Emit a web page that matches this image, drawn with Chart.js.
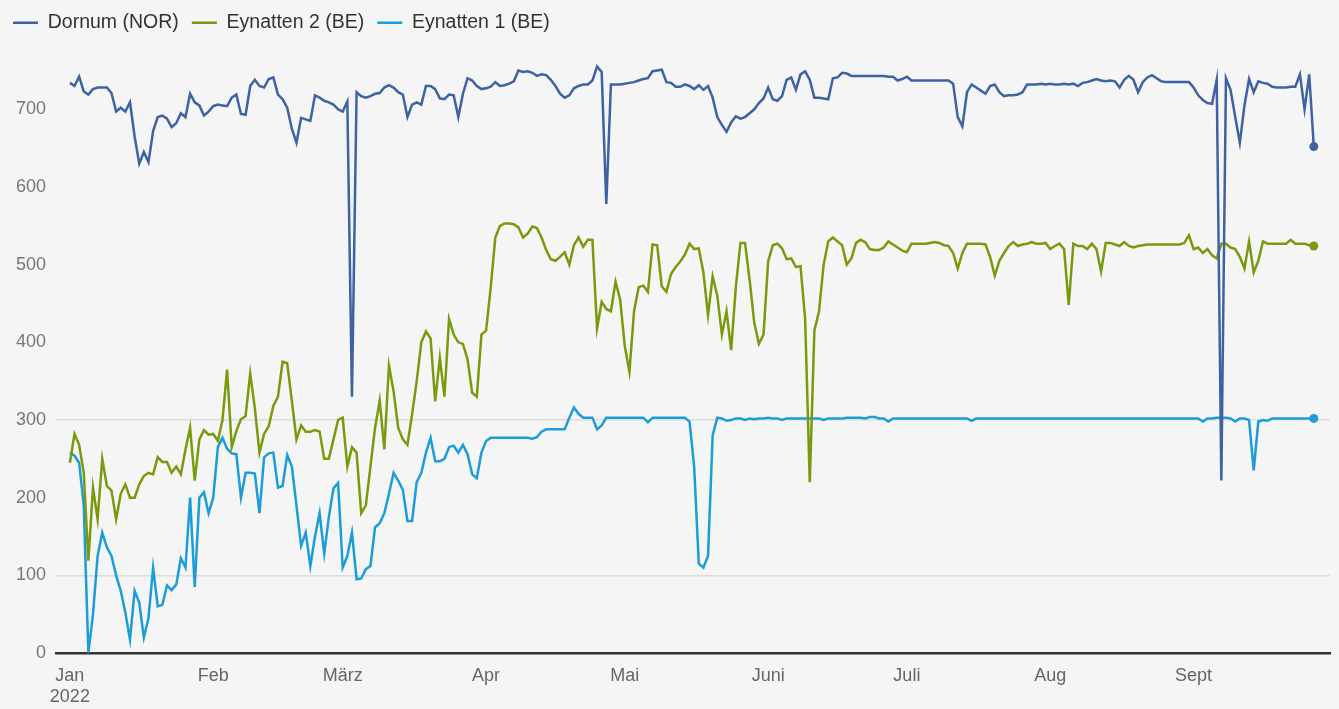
<!DOCTYPE html>
<html>
<head>
<meta charset="utf-8">
<script src="https://cdn.jsdelivr.net/npm/chart.js@4"></script>
<style>
  html, body { margin: 0; padding: 0; background: #f5f5f5; }
  #wrap { width: 1339px; height: 709px; position: relative; }
</style>
</head>
<body>
<div id="wrap"><canvas id="chart"></canvas></div>
<script>
// daily values, 1 Jan 2022 (index 0) to 27 Sept 2022
const dornum = [
  734, 730, 742, 723, 719, 726, 728, 728, 728, 721,
  697, 702, 697, 709, 665, 630, 645, 632, 672, 690,
  692, 688, 677, 682, 695, 690, 720, 709, 705, 692,
  697, 704, 706, 705, 704, 715, 719, 694, 693, 730,
  738, 730, 728, 739, 741, 719, 713, 702, 675, 657,
  689, 687, 685, 718, 715, 711, 709, 706, 700, 697,
  710, 330, 722, 717, 715, 717, 720, 721, 728, 731,
  728, 722, 719, 690, 706, 709, 706, 730, 730, 726,
  714, 713, 719, 718, 690, 720, 740, 737, 730, 726,
  727, 729, 735, 730, 731, 733, 736, 750, 748, 749,
  747, 743, 745, 744, 738, 730, 720, 715, 718, 727,
  730, 732, 732, 737, 755, 748, 578, 732, 732, 732,
  733, 734, 735, 737, 739, 740, 749, 750, 751, 735,
  734, 729, 729, 732, 730, 726, 731, 725, 730, 715,
  690, 680, 671, 683, 691, 688, 690, 695, 700, 708,
  714, 728, 713, 711, 717, 738, 741, 725, 745, 749,
  738, 715, 715, 714, 713, 740, 741, 747, 746, 743,
  743, 743, 743, 743, 743, 743, 743, 742, 742, 737,
  739, 742, 737, 737, 737, 737, 737, 737, 737, 737,
  737, 733, 690, 678, 722, 732, 728, 724, 720, 730,
  732, 722, 717, 718, 718, 719, 722, 732, 732, 732,
  733, 732, 733, 732, 732, 733, 732, 733, 730, 734,
  735, 737, 739, 737, 736, 737, 736, 728, 738, 743,
  738, 722, 735, 741, 744, 740, 736, 735, 735, 735,
  735, 735, 735, 728, 718, 712, 708, 707, 738, 222,
  740, 725, 690, 657, 705, 739, 722, 736, 734, 733,
  729, 728, 728, 728, 729, 729, 745, 700, 745, 652
];

const eynatten2 = [
  245, 282, 268, 232, 119, 213, 172, 250, 215, 209,
  172, 205, 217, 200, 200, 217, 228, 232, 230, 252,
  246, 246, 232, 240, 230, 262, 290, 222, 275, 287,
  281, 282, 273, 300, 365, 265, 286, 301, 305, 360,
  315, 258, 282, 292, 318, 330, 375, 373, 325, 275,
  293, 285, 285, 287, 285, 250, 250, 275, 300, 303,
  240, 265, 258, 180, 190, 240, 290, 325, 262, 370,
  337, 290, 275, 268, 307, 350, 400, 414, 405, 324,
  380, 330, 430, 410, 400, 398, 378, 335, 330, 410,
  415, 470, 535, 550, 553, 553, 552, 548, 535, 540,
  549, 547, 535, 519, 507, 505, 510, 516, 500, 525,
  535, 523, 532, 532, 418, 452, 443, 440, 478, 455,
  395, 362, 440, 471, 473, 465, 526, 525, 472, 465,
  488, 497, 504, 513, 527, 520, 521, 490, 435, 485,
  460, 410, 440, 390, 470, 528, 528, 480, 425, 398,
  410, 504, 525, 527, 521, 507, 508, 497, 498, 430,
  220, 415, 440, 500, 530, 535, 530, 525, 500, 508,
  528, 532, 529, 520, 519, 519, 522, 530, 526, 522,
  518, 516, 527, 527, 527, 527, 528, 529, 528, 525,
  524, 515, 495, 515, 527, 527, 527, 527, 526, 510,
  486, 505, 515, 524, 529, 524, 526, 527, 529, 527,
  527, 528, 520, 524, 527, 520, 448, 527, 524, 524,
  520, 527, 520, 491, 528, 528, 526, 524, 529, 524,
  522, 524, 525, 526, 526, 526, 526, 526, 526, 526,
  526, 528, 538, 520, 522, 515, 520, 512, 508, 527,
  527, 522, 520, 510, 495, 530, 490, 505, 530, 527,
  527, 527, 527, 527, 532, 527, 527, 527, 525, 524
];

const eynatten1 = [
  258, 254, 245, 190, 0, 50, 125, 155, 136, 125,
  100, 80, 52, 17, 80, 65, 20, 45, 110, 60,
  62, 87, 81, 88, 122, 110, 200, 85, 200, 207,
  180, 200, 265, 277, 263, 257, 256, 200, 232, 232,
  231, 180, 252, 257, 258, 213, 215, 255, 240, 190,
  138, 155, 112, 150, 180, 128, 175, 212, 219, 110,
  125, 155, 95, 96, 108, 112, 162, 167, 180, 205,
  232, 222, 210, 170, 170, 220, 232, 258, 277, 247,
  247, 250, 265, 267, 258, 268, 256, 230, 225, 258,
  273, 277, 277, 277, 277, 277, 277, 277, 277, 277,
  276, 278, 285, 288, 288, 288, 288, 288, 303, 316,
  308, 303, 303, 303, 288, 293, 303, 303, 303, 303,
  303, 303, 303, 303, 303, 297, 303, 303, 303, 303,
  303, 303, 303, 303, 298, 240, 115, 110, 125, 280,
  303, 302, 299, 300, 302, 302, 300, 302, 301, 302,
  302, 303, 302, 302, 300, 302, 302, 302, 302, 302,
  302, 302, 302, 300, 302, 302, 302, 302, 303, 303,
  303, 303, 302, 304, 304, 302, 302, 298, 302, 302,
  302, 302, 302, 302, 302, 302, 302, 302, 302, 302,
  302, 302, 302, 302, 302, 299, 302, 302, 302, 302,
  302, 302, 302, 302, 302, 302, 302, 302, 302, 302,
  302, 302, 302, 302, 302, 302, 302, 302, 302, 302,
  302, 302, 302, 302, 302, 302, 302, 302, 302, 302,
  302, 302, 302, 302, 302, 302, 302, 302, 302, 302,
  302, 302, 302, 302, 302, 298, 302, 302, 303, 303,
  303, 302, 298, 302, 302, 300, 235, 298, 300, 299,
  302, 302, 302, 302, 302, 302, 302, 302, 302, 302
];

const seriesNames = ["Dornum (NOR)", "Eynatten 2 (BE)", "Eynatten 1 (BE)"];
const seriesColors = ["#3e62a2", "#7a9a0e", "#1c9dd8"];

// month starts as day index, and their labels
const monthStarts = [0, 31, 59, 90, 120, 151, 181, 212, 243];
const monthLabels = [["Jan", "2022"], "Feb", "März", "Apr", "Mai", "Juni", "Juli", "Aug", "Sept"];
const yTicks = [0, 100, 200, 300, 400, 500, 600, 700];
const yGridShown = [100, 300];

const days = dornum.map((v, i) => i);

Chart.defaults.font.family = '"Liberation Sans", Arial, Helvetica, sans-serif';

function makeSet(values, idx) {
  const last = values.length - 1;
  return {
    label: seriesNames[idx],
    data: values,
    borderColor: seriesColors[idx],
    backgroundColor: seriesColors[idx],
    borderWidth: 2.5,
    tension: 0,
    pointRadius: (c) => (c.dataIndex === last ? 4.5 : 0),
    pointHoverRadius: 0,
    pointBorderWidth: 0
  };
}

new Chart(document.getElementById("chart"), {
  type: "line",
  data: {
    labels: days,
    datasets: [makeSet(dornum, 0), makeSet(eynatten2, 1), makeSet(eynatten1, 2)]
  },
  options: {
    responsive: true,
    maintainAspectRatio: false,
    animation: false,
    layout: { padding: { left: 0, right: 9, top: 0, bottom: 1 } },
    plugins: {
      tooltip: { enabled: false },
      legend: {
        position: "top",
        align: "start",
        labels: {
          boxWidth: 25,
          boxHeight: 2.5,
          padding: 13,
          color: "#333",
          font: { size: 19.5 },
          generateLabels: (chart) =>
            Chart.defaults.plugins.legend.labels.generateLabels(chart).map(l => ({ ...l, lineWidth: 0 }))
        }
      }
    },
    scales: {
      x: {
        type: "linear",
        min: -3,
        max: 272.5,
        grid: { display: false, drawTicks: false },
        border: { display: true, color: "#333", width: 2.5 },
        afterBuildTicks: (scale) => {
          scale.ticks = monthStarts.map(v => ({ value: v }));
        },
        afterFit: (scale) => { scale.height = 55; },
        ticks: {
          autoSkip: false,
          maxRotation: 0,
          padding: 12,
          color: "#666",
          font: { size: 18 },
          callback: (value) => {
            const i = monthStarts.indexOf(value);
            return i >= 0 ? monthLabels[i] : "";
          }
        }
      },
      y: {
        min: 0,
        max: 786,
        border: { display: false },
        grid: {
          drawTicks: false,
          lineWidth: 1.5,
          color: (c) => (c.tick && yGridShown.includes(c.tick.value) ? "#dcdcdc" : "rgba(0,0,0,0)")
        },
        afterBuildTicks: (scale) => {
          scale.ticks = yTicks.map(v => ({ value: v }));
        },
        afterFit: (scale) => { scale.width = 56; },
        ticks: {
          padding: 10,
          color: "#777",
          font: { size: 18 }
        }
      }
    }
  }
});
</script>
</body>
</html>
